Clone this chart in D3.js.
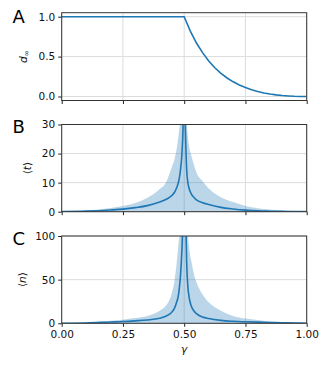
<!DOCTYPE html>
<html lang="en">

<head>
    <meta charset="UTF-8">
    <title>Panels A-C</title>
    <script src="https://d3js.org/d3.v7.min.js"></script>
    <style>
        body,
        html {
            margin: 0;
            padding: 0;
            overflow: hidden;
            background: white;
        }

        svg {
            display: block;
            font-family: "DejaVu Sans", sans-serif;
        }
    </style>
</head>

<body>
    <script>
        // Panel A: d_inf vs gamma
        const gammaA = [0, 0.5, 0.525, 0.55, 0.575, 0.6, 0.625, 0.65, 0.675, 0.7, 0.725, 0.75,
            0.775, 0.8, 0.825, 0.85, 0.875, 0.9, 0.925, 0.95, 0.975, 1.0];
        const dInf = [1, 1, 0.82, 0.67, 0.55, 0.445, 0.36, 0.29, 0.232, 0.184, 0.144, 0.112,
            0.084, 0.063, 0.045, 0.031, 0.02, 0.012, 0.007, 0.003, 0.001, 0];

        // Panel B: <t> mean and upper edge of the band
        const gammaT = [0, 0.1, 0.2, 0.25, 0.3, 0.35, 0.4, 0.425, 0.45, 0.46, 0.47, 0.48, 0.485,
            0.49, 0.495, 0.5, 0.505, 0.51, 0.515, 0.52, 0.53, 0.54, 0.55, 0.575, 0.6, 0.65,
            0.7, 0.75, 0.8, 0.85, 0.9, 0.95, 1.0];
        const tMean = [0.05, 0.2, 0.6, 0.9, 1.4, 2.1, 3.3, 4.2, 5.6, 6.6, 8.4, 11.5, 14.5,
            19, 28, 50, 28, 14.5, 10, 8, 6.0, 4.9, 4.1, 3.1, 2.5, 1.5,
            0.95, 0.55, 0.3, 0.18, 0.1, 0.05, 0.02];
        const tUpper = [0.1, 0.4, 1.3, 2.0, 3.0, 4.8, 7.8, 10.0, 15.5, 18, 22, 28.5, 33,
            40, 50, 70, 55, 32, 26, 22.5, 19, 16, 13.5, 10.5, 8.0, 5.0,
            3.3, 2.0, 1.2, 0.75, 0.4, 0.2, 0.05];

        // Panel C: <n> mean and upper edge of the band
        const gammaN = [0, 0.1, 0.2, 0.25, 0.3, 0.35, 0.4, 0.425, 0.44, 0.45, 0.46, 0.47, 0.475,
            0.48, 0.485, 0.49, 0.495, 0.5, 0.505, 0.51, 0.515, 0.52, 0.53, 0.54, 0.55, 0.575,
            0.6, 0.65, 0.7, 0.75, 0.8, 0.85, 0.9, 0.95, 1.0];
        const nMean = [0.1, 0.4, 1.5, 2.0, 2.8, 3.8, 5.8, 8.0, 10.5, 13, 17, 25, 30,
            40, 55, 80, 120, 200, 140, 70, 42, 30, 19, 14, 11, 7.2,
            5.4, 3.3, 2.3, 1.7, 1.3, 0.9, 0.6, 0.3, 0.1];
        const nUpper = [0.2, 0.8, 3.0, 4.2, 6.0, 8.5, 14.5, 20, 27, 35, 48, 71, 86,
            100, 120, 150, 200, 300, 220, 150, 105, 87, 70, 56, 47, 33,
            24, 14.5, 8.5, 5.4, 3.8, 2.0, 1.2, 0.6, 0.2];

        const xTicks = [0, 0.25, 0.5, 0.75, 1.0];

        const width = 332;
        const height = 374;
        const blue = "#1f77b4";

        const svg = d3.select("body")
            .append("svg")
            .attr("width", width)
            .attr("height", height);

        const x = d3.scaleLinear().domain([0, 1]).range([61.7, 306.7]);

        const panels = [
            {
                letter: "A", top: 12.7, bottom: 100.5, domain: [-0.05, 1.05],
                ticks: [0, 0.5, 1.0], fmt: d3.format(".1f"),
                gamma: gammaA, mean: dInf, upper: null, labelX: 23, letterY: 22.7
            },
            {
                letter: "B", top: 124.5, bottom: 211.7, domain: [0, 30],
                ticks: [0, 10, 20, 30], fmt: d3.format("d"),
                gamma: gammaT, mean: tMean, upper: tUpper, labelX: 27, letterY: 133.3
            },
            {
                letter: "C", top: 236, bottom: 323.3, domain: [0, 100],
                ticks: [0, 50, 100], fmt: d3.format("d"),
                gamma: gammaN, mean: nMean, upper: nUpper, labelX: 22, letterY: 245
            }
        ];

        panels.forEach((p, k) => {
            const y = d3.scaleLinear().domain(p.domain).range([p.bottom, p.top]);
            const g = svg.append("g");

            // clip to the axes box
            g.append("clipPath")
                .attr("id", "clip" + k)
                .append("rect")
                .attr("x", x.range()[0])
                .attr("y", p.top)
                .attr("width", x.range()[1] - x.range()[0])
                .attr("height", p.bottom - p.top);

            // grid
            g.selectAll(".vgrid")
                .data(xTicks)
                .enter()
                .append("line")
                .attr("x1", d => x(d)).attr("x2", d => x(d))
                .attr("y1", p.top).attr("y2", p.bottom)
                .attr("stroke", "#dcdcdc").attr("stroke-width", 1);
            g.selectAll(".hgrid")
                .data(p.ticks)
                .enter()
                .append("line")
                .attr("x1", x.range()[0]).attr("x2", x.range()[1])
                .attr("y1", d => y(d)).attr("y2", d => y(d))
                .attr("stroke", "#dcdcdc").attr("stroke-width", 1);

            const plot = g.append("g").attr("clip-path", "url(#clip" + k + ")");

            // shaded band
            if (p.upper) {
                const area = d3.area()
                    .x((d, i) => x(p.gamma[i]))
                    .y0(y(0))
                    .y1(d => y(d))
                    .curve(d3.curveMonotoneX);
                plot.append("path")
                    .attr("d", area(p.upper))
                    .attr("fill", blue)
                    .attr("fill-opacity", 0.3);
            }

            const line = d3.line()
                .x((d, i) => x(p.gamma[i]))
                .y(d => y(d))
                .curve(k === 0 ? d3.curveLinear : d3.curveMonotoneX);
            plot.append("path")
                .attr("d", line(p.mean))
                .attr("fill", "none")
                .attr("stroke", blue)
                .attr("stroke-width", 1.6);

            // axes
            const yAxis = d3.axisLeft(y).tickValues(p.ticks).tickFormat(p.fmt).tickSize(3.5).tickPadding(3);
            const xAxis = d3.axisBottom(x).tickValues(xTicks).tickSize(3.5).tickPadding(3.5)
                .tickFormat(k === 2 ? d3.format(".2f") : "");

            const ya = g.append("g")
                .attr("transform", `translate(${x.range()[0]},0)`)
                .call(yAxis);
            const xa = g.append("g")
                .attr("transform", `translate(0,${p.bottom})`)
                .call(xAxis);
            [ya, xa].forEach(a => {
                a.select(".domain").remove();
                a.selectAll("line").attr("stroke", "#222").attr("stroke-width", 1);
                a.selectAll("text")
                    .attr("fill", "#111")
                    .style("font-size", "10.5px")
                    .style("font-family", "DejaVu Sans");
            });

            // frame
            g.append("rect")
                .attr("x", x.range()[0])
                .attr("y", p.top)
                .attr("width", x.range()[1] - x.range()[0])
                .attr("height", p.bottom - p.top)
                .attr("fill", "none")
                .attr("stroke", "#333")
                .attr("stroke-width", 1);

            // panel letter
            svg.append("text")
                .attr("x", 12.5)
                .attr("y", p.letterY)
                .attr("font-size", 18)
                .attr("fill", "#000")
                .text(p.letter);

            // y label
            const lab = svg.append("text")
                .attr("transform", `translate(${p.labelX},${(p.top + p.bottom) / 2}) rotate(-90)`)
                .attr("text-anchor", "middle")
                .attr("dy", "0.35em")
                .attr("font-size", 10.5)
                .attr("fill", "#111");
            if (k === 0) {
                lab.append("tspan").attr("font-style", "italic").text("d");
                lab.append("tspan").attr("font-size", 7.5).attr("dy", 2.5).text("∞");
            } else {
                lab.append("tspan").text("⟨");
                lab.append("tspan").attr("font-style", "italic").text(k === 1 ? "t" : "n");
                lab.append("tspan").text("⟩");
            }
        });

        // x label
        svg.append("text")
            .attr("x", x(0.5))
            .attr("y", 353)
            .attr("text-anchor", "middle")
            .attr("font-size", 10.5)
            .attr("font-style", "italic")
            .attr("fill", "#111")
            .text("γ");
    </script>
</body>

</html>
